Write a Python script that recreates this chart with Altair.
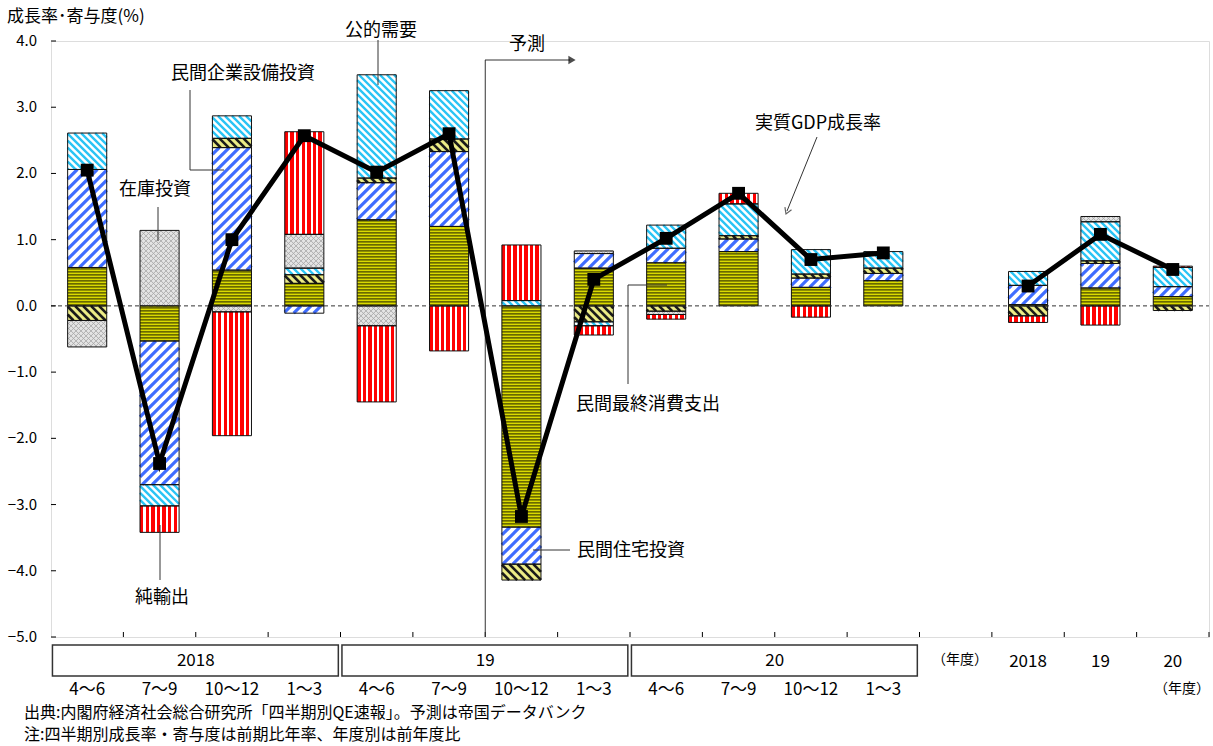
import math
import altair as alt
import pandas as pd

# ---------------- data ----------------
# slot positions: 12 quarters (0..11), gap (12), 3 fiscal years (13..15)
slots = [0, 1, 2, 3, 4, 5, 6, 7, 8, 9, 10, 11, 13, 14, 15]
quarter_labels = ["4～6", "7～9", "10～12", "1～3"] * 3
year_groups = ["2018", "19", "20"]
annual_labels = ["2018", "19", "20"]

pce       = [0.58, -0.53, 0.54, 0.34, 1.30, 1.20, -3.34, 0.57, 0.65, 0.82, 0.28, 0.38, 0.02, 0.27, 0.14]
capex     = [1.48, -2.17, 1.85, -0.11, 0.56, 1.13, -0.56, 0.22, 0.22, 0.19, 0.14, 0.11, 0.29, 0.37, 0.15]
housing   = [-0.22, 0.00, 0.14, 0.13, 0.07, 0.19, -0.24, -0.24, -0.08, 0.05, 0.06, 0.08, -0.15, 0.04, -0.07]
public    = [0.55, -0.32, 0.34, 0.10, 1.56, 0.73, 0.08, -0.06, 0.35, 0.48, 0.37, 0.25, 0.21, 0.59, 0.29]
inventory = [-0.40, 1.14, -0.09, 0.51, -0.30, 0.00, 0.00, 0.04, -0.05, 0.00, 0.00, 0.00, 0.00, 0.08, 0.00]
net_exp   = [0.00, -0.40, -1.87, 1.55, -1.15, -0.68, 0.84, -0.14, -0.07, 0.16, -0.17, 0.00, -0.10, -0.29, 0.02]
gdp       = [2.05, -2.38, 1.00, 2.57, 2.02, 2.60, -3.18, 0.40, 1.02, 1.70, 0.70, 0.80, 0.30, 1.08, 0.55]

y_ticks = [-5, -4, -3, -2, -1, 0, 1, 2, 3, 4]

# ---------------- layout ----------------
W, H = 1158, 596
LEFT, TOP = 51, 41
KX = W / 16.0
KY = H / 9.0
FONT = "Noto Sans CJK JP"

xs = alt.Scale(domain=[0, 16], nice=False, zero=False)
ys = alt.Scale(domain=[-5, 4], nice=False, zero=False)

comps = [("pce", pce), ("capex", capex), ("housing", housing),
         ("public", public), ("inventory", inventory), ("net", net_exp)]
rows = []
for order, (key, vals) in enumerate(comps):
    for s, v in zip(slots, vals):
        rows.append({"slot": s, "comp": key, "order": order, "value": v})
df = pd.DataFrame(rows)

base = (
    alt.Chart(df)
    .transform_filter("datum.value != 0")
    .transform_stack(stack="value", groupby=["slot"], as_=["s0", "s1"],
                     sort=[alt.SortField("order", "ascending")])
    .transform_calculate(
        x0="datum.slot + 0.23", x1="datum.slot + 0.77",
        y0="min(datum.s0, datum.s1)", y1="max(datum.s0, datum.s1)")
)

def rect_enc(first=False):
    if first:
        xa = alt.Axis(labels=False, ticks=False, grid=False, domainColor="black",
                      domainWidth=1, title=None)
        ya = alt.Axis(labels=False, ticks=False, grid=False,
                      domainColor="black", domainWidth=1, title=None)
    else:
        xa = None
        ya = None
    return dict(x=alt.X("x0:Q", scale=xs, axis=xa), x2="x1:Q",
                y=alt.Y("y0:Q", scale=ys, axis=ya), y2="y1:Q")

bg_keys = ["pce", "capex", "housing", "public", "inventory"]
bg_cols = ["#dada00", "#ffffff", "#ecec86", "#ffffff", "#e4e4e4"]
bg = base.transform_filter("datum.comp != 'net'").mark_rect().encode(
    fill=alt.Fill("comp:N", scale=alt.Scale(domain=bg_keys, range=bg_cols), legend=None),
    **rect_enc(True))

stops = []
n = 7
for k in range(n):
    a, b, c = k / n, (k + 0.62) / n, (k + 1) / n
    stops += [alt.GradientStop(color="#ff0000", offset=a), alt.GradientStop(color="#ff0000", offset=b),
              alt.GradientStop(color="#ffffff", offset=b), alt.GradientStop(color="#ffffff", offset=c)]
red_grad = alt.LinearGradient(gradient="linear", stops=stops, x1=0, x2=1, y1=0, y2=0)
red = base.transform_filter("datum.comp == 'net'").mark_rect(fill=red_grad).encode(**rect_enc())

def hstripes(comp, p, color, sw):
    return (base.transform_filter(f"datum.comp == '{comp}'")
            .transform_calculate(cs=f"sequence(ceil(datum.y0*{KY}/{p})*{p} + 1, datum.y1*{KY} - 0.5, {p})")
            .transform_flatten(["cs"], as_=["c"])
            .transform_calculate(yy=f"datum.c/{KY}")
            .mark_rule(color=color, strokeWidth=sw)
            .encode(x=alt.X("x0:Q", scale=xs, axis=None), x2="x1:Q",
                    y=alt.Y("yy:Q", scale=ys, axis=None)))

def dstripes(comp, s, color, sw, up=True):
    if up:   # "/"  v = u + c
        seq = f"sequence(ceil((datum.y0*{KY} - datum.x1*{KX})/{s})*{s}, datum.y1*{KY} - datum.x0*{KX}, {s})"
        ua = f"max(datum.x0*{KX}, datum.y0*{KY} - datum.c)"
        ub = f"min(datum.x1*{KX}, datum.y1*{KY} - datum.c)"
        ya = f"(datum.ua + datum.c)/{KY}"
        yb = f"(datum.ub + datum.c)/{KY}"
    else:    # "\"  v = c - u
        seq = f"sequence(ceil((datum.y0*{KY} + datum.x0*{KX})/{s})*{s}, datum.y1*{KY} + datum.x1*{KX}, {s})"
        ua = f"max(datum.x0*{KX}, datum.c - datum.y1*{KY})"
        ub = f"min(datum.x1*{KX}, datum.c - datum.y0*{KY})"
        ya = f"(datum.c - datum.ua)/{KY}"
        yb = f"(datum.c - datum.ub)/{KY}"
    return (base.transform_filter(f"datum.comp == '{comp}'")
            .transform_calculate(cs=seq)
            .transform_flatten(["cs"], as_=["c"])
            .transform_calculate(ua=ua, ub=ub)
            .transform_filter("datum.ub - datum.ua > 0.4")
            .transform_calculate(xa=f"datum.ua/{KX}", xb=f"datum.ub/{KX}", ya=ya, yb=yb)
            .mark_rule(color=color, strokeWidth=sw, strokeCap="butt")
            .encode(x=alt.X("xa:Q", scale=xs, axis=None), x2="xb:Q",
                    y=alt.Y("ya:Q", scale=ys, axis=None), y2="yb:Q"))

stripes = [
    hstripes("pce", 3, "#454500", 1.3),
    dstripes("capex", 10, "#3f6dff", 3.2, up=True),
    dstripes("public", 7, "#29c4f5", 2.4, up=False),
    dstripes("housing", 8, "#1a1a1a", 2.6, up=False),
    dstripes("inventory", 5, "#a9a9a9", 0.9, up=True),
    dstripes("inventory", 5, "#a9a9a9", 0.9, up=False),
]

outline = base.mark_rect(fill="transparent", stroke="#111111", strokeWidth=1).encode(**rect_enc())

# zero line
zero = alt.Chart(pd.DataFrame({"z": [0]})).mark_rule(color="#333333", strokeDash=[4, 3], strokeWidth=1).encode(
    y=alt.Y("z:Q", scale=ys, axis=None), x=alt.value(0), x2=alt.value(W))

# inward ticks and y labels
ydf = pd.DataFrame({"t": y_ticks})
yt = alt.Chart(ydf).mark_rule(color="black").encode(
    y=alt.Y("t:Q", scale=ys, axis=None), x=alt.value(0), x2=alt.value(5))
ylab = alt.Chart(ydf).transform_calculate(lab="format(datum.t, '.1f')").mark_text(
    font=FONT, fontSize=15, color="black", align="right", baseline="middle").encode(
    y=alt.Y("t:Q", scale=ys, axis=None), x=alt.value(-14), text="lab:N")
xt = alt.Chart(pd.DataFrame({"t": list(range(1, 17))})).mark_rule(color="black").encode(
    x=alt.X("t:Q", scale=xs, axis=None), y=alt.value(H), y2=alt.value(H - 5))

# GDP line
gdf = pd.DataFrame({"slot": slots, "gdp": gdp, "grp": ["q"] * 12 + ["a"] * 3})
gline = alt.Chart(gdf).transform_calculate(xc="datum.slot + 0.5").mark_line(
    color="black", strokeWidth=5).encode(
    x=alt.X("xc:Q", scale=xs, axis=None), y=alt.Y("gdp:Q", scale=ys, axis=None), detail="grp:N")
gpts = alt.Chart(gdf).transform_calculate(xc="datum.slot + 0.5").mark_square(
    color="black", size=165, opacity=1).encode(
    x=alt.X("xc:Q", scale=xs, axis=None), y=alt.Y("gdp:Q", scale=ys, axis=None))

# forecast marker
fc = alt.Chart(pd.DataFrame({"b": [6]})).mark_rule(color="#333333", strokeWidth=1).encode(
    x=alt.X("b:Q", scale=xs, axis=None), y=alt.value(60 - TOP), y2=alt.value(H))

# leader lines (page pixel coordinates)
segs = pd.DataFrame([
    (378, 40, 378, 85), (190, 90, 190, 170), (190, 170, 224, 170), (158, 207, 158, 241),
    (817, 137, 787, 211), (628, 384, 628, 285), (628, 285, 667, 285), (533, 550, 570, 550),
    (160, 525, 160, 580), (485, 60, 570, 60)], columns=["a", "b", "c", "d"])
segs = segs.assign(a=segs.a - LEFT, c=segs.c - LEFT, b=segs.b - TOP, d=segs.d - TOP)
leaders = alt.Chart(segs).mark_rule(color="#333333", strokeWidth=1).encode(
    x=alt.X("a:Q", scale=None, axis=None), x2="c:Q", y=alt.Y("b:Q", scale=None, axis=None), y2="d:Q")

heads = pd.DataFrame({"hx": [572 - LEFT, 786 - LEFT], "hy": [60 - TOP, 214 - TOP]})
head1 = alt.Chart(heads.iloc[[0]]).mark_point(shape="triangle-up", filled=True, color="black",
                                             size=70, angle=90).encode(
    x=alt.X("hx:Q", scale=None, axis=None), y=alt.Y("hy:Q", scale=None, axis=None))
head2 = alt.Chart(heads.iloc[[1]]).mark_point(shape="M-0.6,1L0,0L0.6,1", filled=False, color="#222222",
                                             strokeWidth=1.2, size=140, angle=202).encode(
    x=alt.X("hx:Q", scale=None, axis=None), y=alt.Y("hy:Q", scale=None, axis=None))

# annotation texts (page pixel coordinates)
ann_c = pd.DataFrame([
    ("公的需要", 381, 31), ("民間企業設備投資", 243, 74), ("在庫投資", 155, 190),
    ("実質GDP成長率", 818, 124), ("民間最終消費支出", 648, 405), ("純輸出", 162, 598),
    ("予測", 527, 45)], columns=["t", "px", "py"])
ann_c = ann_c.assign(px=ann_c.px - LEFT, py=ann_c.py - TOP)
txt_c = alt.Chart(ann_c).mark_text(font=FONT, fontSize=18, align="center", baseline="middle",
                                   color="black").encode(
    x=alt.X("px:Q", scale=None, axis=None), y=alt.Y("py:Q", scale=None, axis=None), text="t:N")
ann_l = pd.DataFrame([("民間住宅投資", 577, 551)], columns=["t", "px", "py"])
ann_l = ann_l.assign(px=ann_l.px - LEFT, py=ann_l.py - TOP)
txt_l = alt.Chart(ann_l).mark_text(font=FONT, fontSize=18, align="left", baseline="middle",
                                   color="black").encode(
    x=alt.X("px:Q", scale=None, axis=None), y=alt.Y("py:Q", scale=None, axis=None), text="t:N")
ttl = pd.DataFrame([("成長率･寄与度(%)", 7, 17)], columns=["t", "px", "py"])
ttl = ttl.assign(px=ttl.px - LEFT, py=ttl.py - TOP)
ttl_t = alt.Chart(ttl).mark_text(font=FONT, fontSize=17, align="left", baseline="middle",
                                 color="black").encode(
    x=alt.X("px:Q", scale=None, axis=None), y=alt.Y("py:Q", scale=None, axis=None), text="t:N")

# bottom category boxes and labels
boxes = pd.DataFrame({"lab": year_groups, "st": [0, 4, 8], "en": [4, 8, 12]})
box = alt.Chart(boxes).transform_calculate(b0="datum.st + 0.02", b1="datum.en - 0.03").mark_rect(
    fill="white", stroke="#333333", strokeWidth=1.5).encode(
    x=alt.X("b0:Q", scale=xs, axis=None), x2="b1:Q", y=alt.value(645 - TOP), y2=alt.value(676 - TOP))
box_t = alt.Chart(boxes).transform_calculate(bc="(datum.st + datum.en)/2").mark_text(
    font=FONT, fontSize=17, color="black", baseline="middle").encode(
    x=alt.X("bc:Q", scale=xs, axis=None), y=alt.value(661 - TOP), text="lab:N")

ql = pd.DataFrame({"slot": list(range(12)), "lab": quarter_labels})
q_t = alt.Chart(ql).transform_calculate(xc="datum.slot + 0.5").mark_text(
    font=FONT, fontSize=17, color="black", baseline="middle").encode(
    x=alt.X("xc:Q", scale=xs, axis=None), y=alt.value(690 - TOP), text="lab:N")

al = pd.DataFrame({"slot": [13, 14, 15], "lab": annual_labels})
a_t = alt.Chart(al).transform_calculate(xc="datum.slot + 0.5").mark_text(
    font=FONT, fontSize=17, color="black", baseline="middle").encode(
    x=alt.X("xc:Q", scale=xs, axis=None), y=alt.value(662 - TOP), text="lab:N")

nendo = pd.DataFrame({"t": ["（年度）", "（年度）"], "px": [960 - LEFT, 1182 - LEFT], "py": [660 - TOP, 689 - TOP]})
n_t = alt.Chart(nendo).mark_text(font=FONT, fontSize=14, color="black", baseline="middle").encode(
    x=alt.X("px:Q", scale=None, axis=None), y=alt.Y("py:Q", scale=None, axis=None), text="t:N")

notes = pd.DataFrame({"t": ["出典:内閣府経済社会総合研究所「四半期別QE速報」。予測は帝国データバンク",
                            "注:四半期別成長率・寄与度は前期比年率、年度別は前年度比"],
                      "px": [24 - LEFT, 24 - LEFT], "py": [713 - TOP, 735 - TOP]})
notes_t = alt.Chart(notes).mark_text(font=FONT, fontSize=16, color="black", align="left",
                                     baseline="middle").encode(
    x=alt.X("px:Q", scale=None, axis=None), y=alt.Y("py:Q", scale=None, axis=None), text="t:N")

layers = [bg, red] + stripes + [outline, zero, yt, ylab, xt, fc, leaders, head1, head2,
                                 gline, gpts, txt_c, txt_l, ttl_t, box, box_t, q_t, a_t, n_t, notes_t]

chart = alt.layer(*layers).properties(
    width=W, height=H,
    padding={"left": LEFT, "top": TOP, "right": 1213 - LEFT - W, "bottom": 746 - TOP - H},
    autosize=alt.AutoSizeParams(type="none"),
    background="white",
).configure_view(stroke=None).configure(font=FONT)

chart.save("out.html", embed_options={"renderer": "svg", "actions": False})
